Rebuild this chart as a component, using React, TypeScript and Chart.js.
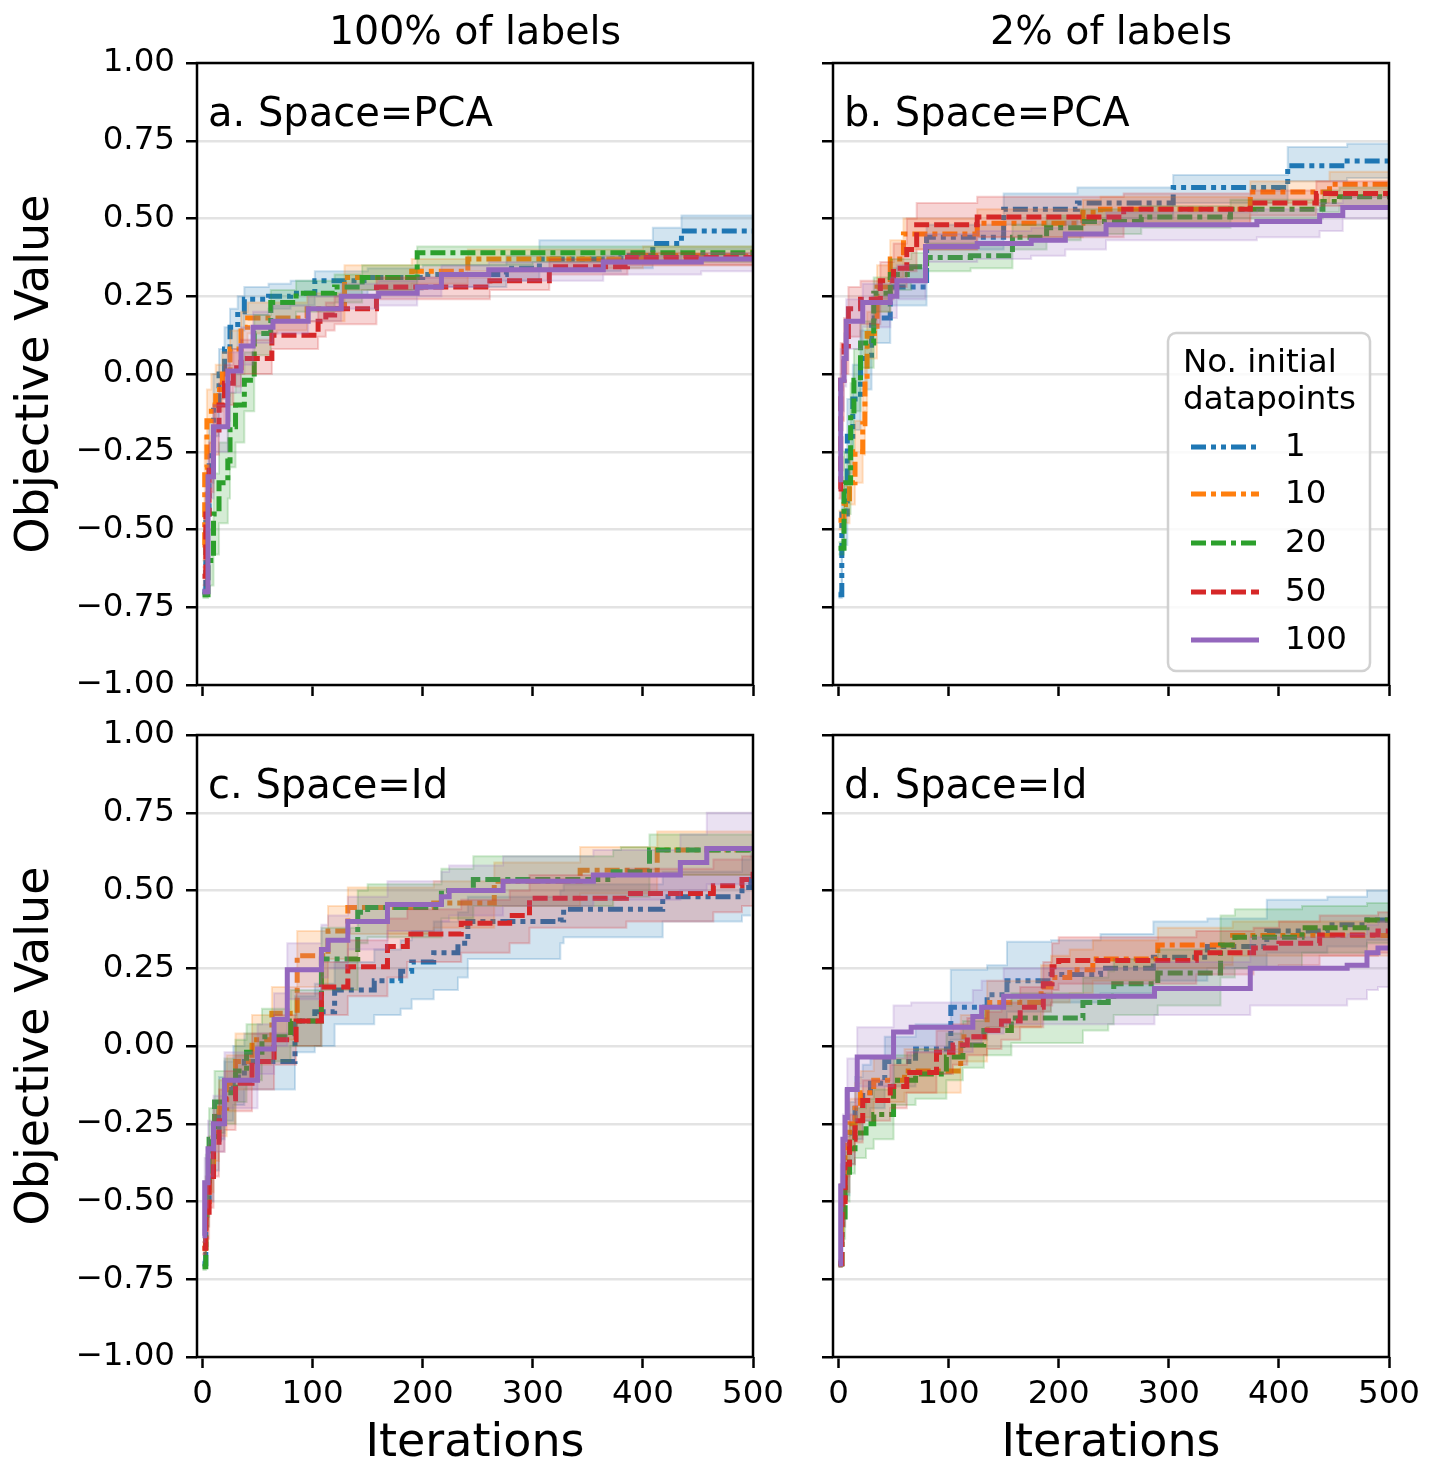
import React, { useEffect, useRef } from 'react';
import { Chart, registerables } from 'chart.js';
Chart.register(...registerables);

const FONT = '"DejaVu Sans", sans-serif';
const PAGE_W = 1439;
const PAGE_H = 1466;
const XAXIS_H = 60;

const SERIES_LABELS = ['1', '10', '20', '50', '100'];
const SERIES_COLORS = ['#1f77b4', '#ff7f0e', '#2ca02c', '#d62728', '#9467bd'];
const SERIES_DASHES = [[15, 5, 5, 5, 5, 5], [15, 5, 5, 5], [15, 5, 15, 5, 5, 5], [15, 5], []];
const Y_TICKS = [-1, -0.75, -0.5, -0.25, 0, 0.25, 0.5, 0.75, 1];
const X_TICKS = [0, 100, 200, 300, 400, 500];
const COLUMN_TITLES = ['100% of labels', '2% of labels'];
const PANEL_TITLES = ['a. Space=PCA', 'b. Space=PCA', 'c. Space=Id', 'd. Space=Id'];
const LEGEND_TITLE = ['No. initial', 'datapoints'];
const Y_TITLE = 'Objective Value';
const X_TITLE = 'Iterations';

// ---------- Panel a: Space=PCA, 100% of labels ----------
const A1_x = [0, 3, 6, 10, 15, 20, 25, 32, 38, 60, 80, 102, 150, 200, 276, 306, 380, 409, 435, 500];
const A1_m = [-0.70, -0.45, -0.25, -0.10, 0.00, 0.08, 0.15, 0.20, 0.24, 0.25, 0.26, 0.30, 0.31, 0.32, 0.34, 0.37, 0.38, 0.42, 0.46, 0.46];
const A1_lo = [-0.71, -0.52, -0.35, -0.20, -0.08, 0.00, 0.08, 0.14, 0.19, 0.21, 0.22, 0.25, 0.27, 0.28, 0.30, 0.33, 0.34, 0.36, 0.40, 0.41];
const A1_hi = [-0.69, -0.38, -0.15, 0.00, 0.08, 0.15, 0.21, 0.25, 0.28, 0.29, 0.30, 0.33, 0.34, 0.35, 0.38, 0.43, 0.43, 0.47, 0.51, 0.51];

const A2_x = [0, 2, 4, 8, 12, 18, 25, 35, 41, 68, 95, 129, 190, 241, 300, 400, 500];
const A2_m = [-0.55, -0.30, -0.15, -0.10, -0.05, 0.00, 0.08, 0.15, 0.18, 0.18, 0.21, 0.31, 0.33, 0.37, 0.37, 0.38, 0.40];
const A2_lo = [-0.60, -0.40, -0.25, -0.20, -0.12, -0.07, 0.02, 0.09, 0.13, 0.14, 0.17, 0.27, 0.29, 0.33, 0.34, 0.35, 0.37];
const A2_hi = [-0.50, -0.20, -0.05, 0.00, 0.03, 0.07, 0.14, 0.20, 0.23, 0.23, 0.26, 0.35, 0.37, 0.40, 0.40, 0.41, 0.42];

const A3_x = [0, 5, 10, 15, 23, 25, 30, 38, 47, 62, 85, 120, 145, 195, 300, 500];
const A3_m = [-0.71, -0.60, -0.45, -0.35, -0.28, -0.17, -0.10, -0.02, 0.13, 0.23, 0.26, 0.28, 0.31, 0.39, 0.39, 0.40];
const A3_lo = [-0.72, -0.68, -0.58, -0.48, -0.40, -0.30, -0.22, -0.12, 0.06, 0.17, 0.20, 0.23, 0.27, 0.35, 0.36, 0.37];
const A3_hi = [-0.70, -0.50, -0.32, -0.22, -0.15, -0.06, 0.00, 0.07, 0.19, 0.27, 0.30, 0.32, 0.35, 0.41, 0.41, 0.42];

const A4_x = [0, 3, 6, 10, 15, 20, 28, 35, 63, 105, 112, 120, 158, 261, 315, 386, 500];
const A4_m = [-0.65, -0.45, -0.30, -0.18, -0.10, -0.03, 0.02, 0.05, 0.125, 0.17, 0.19, 0.21, 0.28, 0.30, 0.345, 0.375, 0.375];
const A4_lo = [-0.68, -0.52, -0.38, -0.26, -0.17, -0.10, -0.04, 0.00, 0.08, 0.12, 0.14, 0.16, 0.24, 0.27, 0.32, 0.35, 0.35];
const A4_hi = [-0.62, -0.38, -0.22, -0.10, -0.03, 0.03, 0.08, 0.11, 0.17, 0.21, 0.23, 0.25, 0.31, 0.33, 0.37, 0.39, 0.39];

const A5_x = [0, 5, 10, 23, 35, 46, 64, 96, 126, 160, 195, 217, 260, 364, 453, 500];
const A5_m = [-0.70, -0.33, -0.17, 0.01, 0.09, 0.15, 0.17, 0.21, 0.25, 0.26, 0.28, 0.32, 0.335, 0.36, 0.37, 0.375];
const A5_lo = [-0.71, -0.40, -0.25, -0.06, 0.03, 0.10, 0.13, 0.17, 0.21, 0.22, 0.25, 0.28, 0.30, 0.32, 0.33, 0.33];
const A5_hi = [-0.69, -0.26, -0.10, 0.07, 0.15, 0.20, 0.22, 0.25, 0.29, 0.30, 0.31, 0.35, 0.36, 0.38, 0.39, 0.39];

// ---------- Panel b: Space=PCA, 2% of labels ----------
const B1_x = [0, 3, 8, 13, 20, 30, 47, 80, 150, 217, 304, 408, 462, 500];
const B1_m = [-0.71, -0.45, -0.20, -0.08, 0.05, 0.18, 0.28, 0.44, 0.53, 0.55, 0.60, 0.67, 0.685, 0.685];
const B1_lo = [-0.72, -0.55, -0.32, -0.18, -0.05, 0.10, 0.22, 0.40, 0.48, 0.50, 0.55, 0.62, 0.63, 0.63];
const B1_hi = [-0.70, -0.35, -0.08, 0.03, 0.14, 0.25, 0.34, 0.48, 0.58, 0.60, 0.64, 0.73, 0.74, 0.74];

const B2_x = [0, 5, 10, 15, 22, 24, 26, 35, 47, 59, 126, 222, 238, 374, 446, 500];
const B2_m = [-0.47, -0.42, -0.35, -0.25, -0.16, -0.02, 0.13, 0.28, 0.37, 0.45, 0.485, 0.52, 0.53, 0.585, 0.61, 0.615];
const B2_lo = [-0.50, -0.48, -0.42, -0.35, -0.26, -0.12, 0.05, 0.20, 0.31, 0.40, 0.44, 0.48, 0.49, 0.55, 0.57, 0.58];
const B2_hi = [-0.44, -0.36, -0.26, -0.15, -0.06, 0.08, 0.20, 0.35, 0.43, 0.50, 0.53, 0.56, 0.57, 0.62, 0.65, 0.65];

const B3_x = [0, 5, 11, 14, 20, 32, 47, 66, 80, 120, 158, 189, 220, 275, 356, 440, 455, 500];
const B3_m = [-0.56, -0.35, -0.13, -0.02, 0.10, 0.26, 0.32, 0.345, 0.375, 0.38, 0.44, 0.47, 0.49, 0.505, 0.53, 0.555, 0.57, 0.575];
const B3_lo = [-0.58, -0.45, -0.24, -0.12, 0.02, 0.20, 0.27, 0.30, 0.33, 0.34, 0.40, 0.43, 0.45, 0.47, 0.50, 0.52, 0.54, 0.54];
const B3_hi = [-0.54, -0.25, -0.03, 0.08, 0.17, 0.31, 0.37, 0.39, 0.42, 0.42, 0.48, 0.51, 0.53, 0.54, 0.56, 0.59, 0.60, 0.60];

const B4_x = [0, 2, 5, 9, 20, 38, 50, 62, 71, 126, 259, 374, 434, 500];
const B4_m = [-0.37, -0.02, 0.09, 0.21, 0.24, 0.30, 0.34, 0.40, 0.48, 0.505, 0.53, 0.55, 0.58, 0.58];
const B4_lo = [-0.40, -0.15, 0.00, 0.12, 0.16, 0.24, 0.28, 0.33, 0.40, 0.44, 0.48, 0.51, 0.54, 0.54];
const B4_hi = [-0.34, 0.10, 0.18, 0.28, 0.30, 0.36, 0.42, 0.50, 0.55, 0.57, 0.58, 0.59, 0.62, 0.62];

const B5_x = [0, 2, 5, 7, 22, 47, 53, 79, 126, 175, 206, 243, 380, 437, 458, 500];
const B5_m = [-0.34, -0.02, 0.05, 0.17, 0.23, 0.25, 0.30, 0.41, 0.42, 0.43, 0.45, 0.48, 0.49, 0.51, 0.535, 0.535];
const B5_lo = [-0.37, -0.12, -0.04, 0.08, 0.15, 0.18, 0.24, 0.36, 0.37, 0.38, 0.40, 0.43, 0.44, 0.46, 0.50, 0.50];
const B5_hi = [-0.31, 0.08, 0.13, 0.24, 0.29, 0.31, 0.35, 0.45, 0.46, 0.47, 0.49, 0.52, 0.53, 0.55, 0.57, 0.57];

// ---------- Panel c: Space=Id, 100% of labels ----------
const C1_x = [0, 3, 6, 10, 15, 20, 28, 38, 84, 102, 120, 156, 180, 190, 210, 232, 241, 325, 328, 418, 490, 498];
const C1_m = [-0.70, -0.50, -0.40, -0.30, -0.20, -0.14, -0.10, -0.05, 0.08, 0.11, 0.18, 0.21, 0.24, 0.27, 0.30, 0.33, 0.40, 0.405, 0.44, 0.48, 0.51, 0.555];
const C1_lo = [-0.71, -0.58, -0.50, -0.40, -0.30, -0.24, -0.19, -0.14, -0.02, 0.00, 0.07, 0.10, 0.12, 0.15, 0.18, 0.22, 0.28, 0.33, 0.35, 0.40, 0.42, 0.42];
const C1_hi = [-0.69, -0.42, -0.30, -0.20, -0.10, -0.05, 0.00, 0.04, 0.16, 0.20, 0.27, 0.31, 0.34, 0.37, 0.40, 0.43, 0.48, 0.50, 0.52, 0.56, 0.60, 0.62];

const C2_x = [0, 3, 6, 10, 15, 22, 30, 45, 63, 86, 114, 132, 210, 265, 343, 413, 500];
const C2_m = [-0.65, -0.50, -0.38, -0.28, -0.20, -0.12, -0.05, 0.02, 0.105, 0.29, 0.37, 0.445, 0.46, 0.53, 0.565, 0.63, 0.635];
const C2_lo = [-0.67, -0.58, -0.47, -0.37, -0.29, -0.21, -0.14, -0.06, 0.02, 0.19, 0.28, 0.36, 0.38, 0.45, 0.49, 0.55, 0.56];
const C2_hi = [-0.63, -0.42, -0.29, -0.19, -0.11, -0.03, 0.04, 0.10, 0.19, 0.37, 0.45, 0.51, 0.53, 0.59, 0.64, 0.69, 0.70];

const C3_x = [0, 3, 6, 11, 20, 30, 40, 54, 80, 108, 141, 150, 217, 246, 373, 380, 406, 500];
const C3_m = [-0.71, -0.45, -0.30, -0.18, -0.15, -0.08, -0.02, 0.03, 0.08, 0.28, 0.43, 0.445, 0.50, 0.535, 0.56, 0.56, 0.63, 0.63];
const C3_lo = [-0.72, -0.55, -0.40, -0.28, -0.25, -0.18, -0.11, -0.05, 0.00, 0.18, 0.33, 0.35, 0.41, 0.45, 0.47, 0.48, 0.55, 0.56];
const C3_hi = [-0.70, -0.35, -0.20, -0.08, -0.04, 0.02, 0.07, 0.12, 0.18, 0.38, 0.50, 0.52, 0.57, 0.61, 0.63, 0.64, 0.68, 0.69];

const C4_x = [0, 3, 6, 10, 15, 20, 30, 45, 65, 85, 108, 132, 168, 186, 235, 279, 297, 385, 464, 490, 500];
const C4_m = [-0.65, -0.55, -0.42, -0.32, -0.24, -0.17, -0.12, -0.05, 0.02, 0.08, 0.19, 0.255, 0.32, 0.36, 0.395, 0.42, 0.475, 0.49, 0.515, 0.535, 0.56];
const C4_lo = [-0.67, -0.62, -0.52, -0.42, -0.34, -0.27, -0.21, -0.14, -0.06, 0.00, 0.10, 0.16, 0.22, 0.27, 0.30, 0.33, 0.38, 0.40, 0.43, 0.45, 0.47];
const C4_hi = [-0.63, -0.47, -0.32, -0.22, -0.14, -0.08, -0.03, 0.04, 0.10, 0.17, 0.27, 0.34, 0.41, 0.44, 0.47, 0.50, 0.55, 0.57, 0.60, 0.61, 0.63];

const C5_x = [0, 2, 5, 10, 20, 50, 65, 77, 108, 114, 132, 168, 217, 224, 273, 355, 434, 458, 500];
const C5_m = [-0.61, -0.44, -0.33, -0.25, -0.11, -0.01, 0.085, 0.245, 0.31, 0.34, 0.40, 0.455, 0.48, 0.50, 0.53, 0.55, 0.59, 0.635, 0.635];
const C5_lo = [-0.63, -0.52, -0.42, -0.34, -0.20, -0.09, 0.00, 0.15, 0.22, 0.25, 0.31, 0.37, 0.40, 0.42, 0.45, 0.47, 0.50, 0.52, 0.52];
const C5_hi = [-0.59, -0.36, -0.24, -0.16, -0.02, 0.07, 0.17, 0.33, 0.39, 0.42, 0.48, 0.53, 0.56, 0.58, 0.61, 0.63, 0.68, 0.75, 0.75];

// ---------- Panel d: Space=Id, 2% of labels ----------
const D1_x = [0, 3, 6, 10, 15, 22, 29, 42, 70, 102, 135, 153, 193, 238, 286, 335, 389, 444, 480, 500];
const D1_m = [-0.70, -0.50, -0.38, -0.28, -0.20, -0.15, -0.12, -0.05, -0.01, 0.125, 0.165, 0.21, 0.23, 0.25, 0.285, 0.32, 0.37, 0.39, 0.405, 0.41];
const D1_lo = [-0.71, -0.58, -0.48, -0.38, -0.30, -0.24, -0.20, -0.13, -0.09, 0.02, 0.06, 0.11, 0.14, 0.17, 0.21, 0.25, 0.30, 0.32, 0.34, 0.35];
const D1_hi = [-0.69, -0.42, -0.28, -0.18, -0.10, -0.06, -0.04, 0.03, 0.07, 0.245, 0.26, 0.335, 0.34, 0.36, 0.40, 0.41, 0.47, 0.48, 0.50, 0.51];

const D2_x = [0, 3, 6, 10, 15, 20, 32, 60, 111, 135, 184, 193, 210, 231, 290, 350, 358, 500];
const D2_m = [-0.70, -0.45, -0.32, -0.25, -0.20, -0.15, -0.11, -0.08, 0.03, 0.14, 0.19, 0.22, 0.245, 0.28, 0.325, 0.325, 0.355, 0.37];
const D2_lo = [-0.71, -0.52, -0.42, -0.34, -0.28, -0.23, -0.18, -0.15, -0.05, 0.06, 0.11, 0.14, 0.17, 0.21, 0.25, 0.26, 0.29, 0.31];
const D2_hi = [-0.69, -0.38, -0.24, -0.17, -0.12, -0.08, -0.04, -0.01, 0.10, 0.21, 0.26, 0.29, 0.31, 0.34, 0.38, 0.38, 0.40, 0.42];

const D3_x = [0, 3, 6, 10, 15, 25, 32, 50, 70, 98, 113, 132, 157, 222, 245, 250, 290, 347, 360, 421, 480, 500];
const D3_m = [-0.70, -0.55, -0.42, -0.33, -0.28, -0.25, -0.22, -0.11, -0.09, -0.035, 0.003, 0.05, 0.09, 0.14, 0.16, 0.20, 0.235, 0.325, 0.35, 0.38, 0.405, 0.41];
const D3_lo = [-0.71, -0.62, -0.50, -0.41, -0.36, -0.33, -0.30, -0.19, -0.17, -0.11, -0.07, -0.03, 0.01, 0.05, 0.07, 0.10, 0.13, 0.22, 0.25, 0.30, 0.33, 0.34];
const D3_hi = [-0.69, -0.48, -0.34, -0.25, -0.20, -0.17, -0.14, -0.03, -0.01, 0.04, 0.08, 0.13, 0.17, 0.22, 0.24, 0.28, 0.31, 0.42, 0.44, 0.45, 0.46, 0.47];

const D4_x = [0, 3, 6, 10, 15, 22, 47, 62, 89, 104, 117, 135, 148, 165, 186, 194, 200, 325, 377, 400, 437, 490, 500];
const D4_m = [-0.70, -0.50, -0.38, -0.30, -0.24, -0.175, -0.13, -0.085, -0.02, 0.003, 0.03, 0.05, 0.08, 0.125, 0.20, 0.255, 0.275, 0.30, 0.315, 0.33, 0.357, 0.37, 0.37];
const D4_lo = [-0.71, -0.58, -0.47, -0.38, -0.31, -0.24, -0.20, -0.15, -0.09, -0.06, -0.03, -0.01, 0.02, 0.06, 0.13, 0.18, 0.20, 0.23, 0.25, 0.26, 0.29, 0.30, 0.30];
const D4_hi = [-0.69, -0.42, -0.29, -0.22, -0.17, -0.11, -0.06, -0.02, 0.05, 0.07, 0.09, 0.11, 0.14, 0.19, 0.27, 0.33, 0.35, 0.37, 0.38, 0.40, 0.42, 0.43, 0.43];

const D5_x = [0, 2, 4, 6, 8, 17, 50, 66, 122, 130, 150, 287, 374, 462, 480, 490, 500];
const D5_m = [-0.70, -0.45, -0.30, -0.23, -0.14, -0.035, 0.045, 0.06, 0.095, 0.125, 0.16, 0.185, 0.25, 0.26, 0.30, 0.315, 0.315];
const D5_lo = [-0.71, -0.52, -0.38, -0.32, -0.24, -0.13, -0.04, -0.02, 0.01, 0.04, 0.07, 0.10, 0.13, 0.15, 0.18, 0.19, 0.20];
const D5_hi = [-0.69, -0.38, -0.22, -0.14, -0.04, 0.06, 0.13, 0.14, 0.18, 0.21, 0.25, 0.27, 0.35, 0.36, 0.39, 0.40, 0.40];

type Series = [number[], number[], number[], number[]];

const PANELS = [
  { title: PANEL_TITLES[0], left: 197, top: 63, right: 753, bottom: 685, col: 0, row: 0,
    series: [[A1_x, A1_m, A1_lo, A1_hi], [A2_x, A2_m, A2_lo, A2_hi], [A3_x, A3_m, A3_lo, A3_hi], [A4_x, A4_m, A4_lo, A4_hi], [A5_x, A5_m, A5_lo, A5_hi]] as Series[] },
  { title: PANEL_TITLES[1], left: 833, top: 63, right: 1389, bottom: 685, col: 1, row: 0,
    series: [[B1_x, B1_m, B1_lo, B1_hi], [B2_x, B2_m, B2_lo, B2_hi], [B3_x, B3_m, B3_lo, B3_hi], [B4_x, B4_m, B4_lo, B4_hi], [B5_x, B5_m, B5_lo, B5_hi]] as Series[] },
  { title: PANEL_TITLES[2], left: 197, top: 735, right: 753, bottom: 1357, col: 0, row: 1,
    series: [[C1_x, C1_m, C1_lo, C1_hi], [C2_x, C2_m, C2_lo, C2_hi], [C3_x, C3_m, C3_lo, C3_hi], [C4_x, C4_m, C4_lo, C4_hi], [C5_x, C5_m, C5_lo, C5_hi]] as Series[] },
  { title: PANEL_TITLES[3], left: 833, top: 735, right: 1389, bottom: 1357, col: 1, row: 1,
    series: [[D1_x, D1_m, D1_lo, D1_hi], [D2_x, D2_m, D2_lo, D2_hi], [D3_x, D3_m, D3_lo, D3_hi], [D4_x, D4_m, D4_lo, D4_hi], [D5_x, D5_m, D5_lo, D5_hi]] as Series[] },
];

function rgba(hex: string, a: number) {
  const r = parseInt(hex.slice(1, 3), 16);
  const g = parseInt(hex.slice(3, 5), 16);
  const b = parseInt(hex.slice(5, 7), 16);
  return `rgba(${r},${g},${b},${a})`;
}

function fmtY(v: number) {
  const s = Math.abs(v).toFixed(2);
  return v < 0 ? '\u2212' + s : s;
}

function Panel({ idx }: { idx: number }) {
  const ref = useRef<HTMLCanvasElement>(null);
  useEffect(() => {
    const cfg = PANELS[idx];
    const datasets: any[] = [];
    cfg.series.forEach((s, k) => {
      const [xs, m, lo, hi] = s;
      const col = SERIES_COLORS[k];
      const base = 1000 - k * 3;
      datasets.push({
        data: xs.map((x, i) => ({ x, y: lo[i] })),
        borderColor: rgba(col, 0.22), borderWidth: 2, pointRadius: 0, stepped: true, fill: false, order: base,
      });
      datasets.push({
        data: xs.map((x, i) => ({ x, y: hi[i] })),
        borderColor: rgba(col, 0.22), backgroundColor: rgba(col, 0.2), borderWidth: 2, pointRadius: 0,
        stepped: true, fill: '-1', order: base - 1,
      });
      datasets.push({
        data: xs.map((x, i) => ({ x, y: m[i] })),
        borderColor: col, borderWidth: 5, borderDash: SERIES_DASHES[k], borderCapStyle: 'butt',
        pointRadius: 0, stepped: true, fill: false, order: base - 2,
      });
    });

    const deco = {
      id: 'deco',
      afterDraw(chart: any) {
        const ctx = chart.ctx;
        const a = chart.chartArea;
        ctx.save();
        ctx.strokeStyle = '#000';
        ctx.lineWidth = 2.5;
        ctx.strokeRect(a.left, a.top, a.right - a.left, a.bottom - a.top);
        ctx.fillStyle = '#000';
        ctx.font = `40px ${FONT}`;
        ctx.textAlign = 'left';
        ctx.textBaseline = 'alphabetic';
        ctx.fillText(cfg.title, a.left + 11, a.top + 63);
        const cx = (a.left + a.right) / 2;
        if (cfg.row === 0) {
          ctx.font = `39.5px ${FONT}`;
          ctx.textAlign = 'center';
          ctx.fillText(COLUMN_TITLES[cfg.col], cx, 44);
        } else {
          ctx.font = `46px ${FONT}`;
          ctx.textAlign = 'center';
          ctx.fillText(X_TITLE, cx, 1456);
        }
        if (cfg.col === 0) {
          ctx.save();
          ctx.translate(48, (a.top + a.bottom) / 2);
          ctx.rotate(-Math.PI / 2);
          ctx.font = `46px ${FONT}`;
          ctx.textAlign = 'center';
          ctx.fillText(Y_TITLE, 0, 0);
          ctx.restore();
        }
        if (cfg.col === 1 && cfg.row === 0) {
          // legend
          const bx = 1168, by = 333, bw = 202, bh = 338, r = 8;
          ctx.beginPath();
          ctx.moveTo(bx + r, by);
          ctx.lineTo(bx + bw - r, by);
          ctx.arcTo(bx + bw, by, bx + bw, by + r, r);
          ctx.lineTo(bx + bw, by + bh - r);
          ctx.arcTo(bx + bw, by + bh, bx + bw - r, by + bh, r);
          ctx.lineTo(bx + r, by + bh);
          ctx.arcTo(bx, by + bh, bx, by + bh - r, r);
          ctx.lineTo(bx, by + r);
          ctx.arcTo(bx, by, bx + r, by, r);
          ctx.closePath();
          ctx.fillStyle = 'rgba(255,255,255,0.8)';
          ctx.fill();
          ctx.strokeStyle = 'rgba(204,204,204,0.9)';
          ctx.lineWidth = 2.5;
          ctx.stroke();
          ctx.fillStyle = '#000';
          ctx.font = `32.5px ${FONT}`;
          ctx.textAlign = 'left';
          ctx.textBaseline = 'alphabetic';
          ctx.fillText(LEGEND_TITLE[0], 1183, 372);
          ctx.fillText(LEGEND_TITLE[1], 1183, 409);
          const ys = [447, 494, 543, 592, 640];
          SERIES_LABELS.forEach((lab, k) => {
            ctx.save();
            ctx.strokeStyle = SERIES_COLORS[k];
            ctx.lineWidth = 5;
            ctx.lineCap = 'butt';
            ctx.setLineDash(SERIES_DASHES[k]);
            ctx.beginPath();
            ctx.moveTo(1191, ys[k]);
            ctx.lineTo(1259, ys[k]);
            ctx.stroke();
            ctx.restore();
            ctx.fillStyle = '#000';
            ctx.textBaseline = 'middle';
            ctx.fillText(lab, 1285, ys[k] + 1);
          });
        }
        ctx.restore();
      },
    };

    const chart = new Chart(ref.current as HTMLCanvasElement, {
      type: 'line',
      data: { datasets },
      plugins: [deco],
      options: {
        responsive: false,
        animation: false,
        devicePixelRatio: 1,
        events: [],
        layout: {
          padding: { left: 0, top: cfg.top, right: PAGE_W - cfg.right, bottom: PAGE_H - cfg.bottom - XAXIS_H },
        },
        plugins: { legend: { display: false }, tooltip: { enabled: false }, title: { display: false } },
        scales: {
          x: {
            type: 'linear',
            min: -5,
            max: 500,
            afterBuildTicks: (s: any) => { s.ticks = X_TICKS.map((v) => ({ value: v })); },
            afterFit: (s: any) => { s.height = XAXIS_H; },
            ticks: {
              display: cfg.row === 1,
              font: { family: FONT, size: 32.5 },
              color: '#000',
              padding: 7,
              maxRotation: 0,
              autoSkip: false,
              callback: (v: any) => String(v),
            },
            grid: { drawOnChartArea: false, drawTicks: true, tickLength: 11, tickColor: '#000', tickWidth: 2.5 },
            border: { display: false },
          },
          y: {
            type: 'linear',
            min: -1,
            max: 1,
            afterBuildTicks: (s: any) => { s.ticks = Y_TICKS.map((v) => ({ value: v })); },
            afterFit: (s: any) => { s.width = cfg.left; },
            ticks: {
              display: cfg.col === 0,
              font: { family: FONT, size: 32.5 },
              color: '#000',
              padding: 11,
              autoSkip: false,
              callback: (v: any) => fmtY(Number(v)),
            },
            grid: { color: '#e3e3e3', lineWidth: 2.5, drawTicks: true, tickLength: 11, tickColor: '#000', tickWidth: 2.5 },
            border: { display: false },
          },
        },
      } as any,
    });
    return () => chart.destroy();
  }, [idx]);
  return (
    <canvas
      ref={ref}
      width={PAGE_W}
      height={PAGE_H}
      style={{ position: 'absolute', left: 0, top: 0, width: PAGE_W, height: PAGE_H }}
    />
  );
}

export default function App() {
  return (
    <div style={{ position: 'absolute', left: 0, top: 0, width: PAGE_W, height: PAGE_H, background: '#fff' }}>
      {PANELS.map((_, i) => (
        <Panel key={i} idx={i} />
      ))}
    </div>
  );
}
